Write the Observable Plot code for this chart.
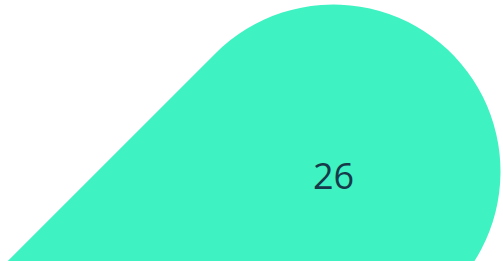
<!DOCTYPE html>
<html>
<head>
<meta charset="utf-8">
<script src="https://cdn.jsdelivr.net/npm/d3@7"></script>
<script src="https://cdn.jsdelivr.net/npm/@observablehq/plot@0.6"></script>
<style>
  html, body { margin: 0; padding: 0; background: #fff; overflow: hidden; }
  #chart svg { display: block; }
</style>
</head>
<body>
<div id="chart"></div>
<script>
const labels = ["26"];
const values = [26];

const data = labels.map((label, i) => ({label, value: values[i]}));

// teardrop symbol: circle with a pointed tail toward the lower left
const teardrop = {
  draw(ctx, size) {
    const r = Math.sqrt(size / Math.PI);
    const s = Math.SQRT1_2;
    const t = 3 * r;
    const tx = -r * s - t * s, ty = -r * s + t * s;
    const tipAngle = Math.atan2(ty, tx);
    const D = Math.hypot(tx, ty);
    const alpha = Math.acos(r / D);
    const a0 = tipAngle + alpha;
    const a1 = tipAngle - alpha + 2 * Math.PI;
    ctx.moveTo(tx, ty);
    ctx.lineTo(r * Math.cos(a0), r * Math.sin(a0));
    ctx.arc(0, 0, r, a0, a1, false);
    ctx.closePath();
  }
};

const chart = Plot.plot({
  width: 503,
  height: 261,
  marginLeft: 163,
  marginRight: 0,
  marginTop: 81,
  marginBottom: 0,
  style: {background: "white"},
  marks: [
    Plot.dot(data, {frameAnchor: "middle", r: 167, symbol: teardrop, fill: "#3FF2C1", stroke: "none", fillOpacity: 1}),
    Plot.text(data, {frameAnchor: "middle", text: "label", fontSize: 36, fontFamily: "Open Sans", fill: "#173A4A", dy: 6})
  ]
});
document.getElementById("chart").append(chart);
</script>
</body>
</html>
